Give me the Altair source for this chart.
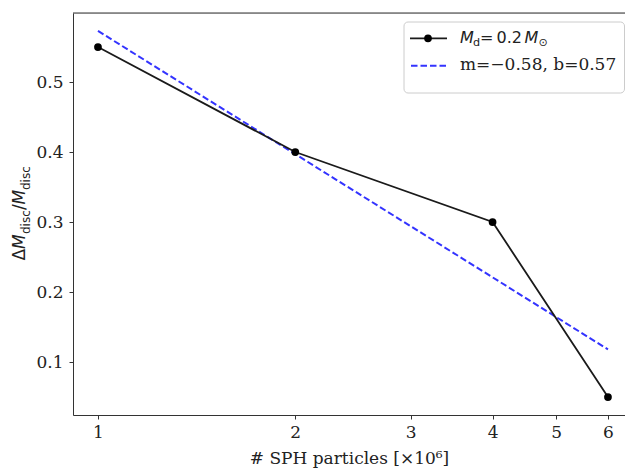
import altair as alt
import pandas as pd

# data
particles = [1, 2, 4, 6]            # x 10^6 SPH particles
dmass = [0.55, 0.40, 0.30, 0.05]    # Delta M_disc / M_disc
fit_x = [1, 6]
fit_y = [0.573, 0.118]
x_ticks = [1, 2, 3, 4, 5, 6]
y_ticks = [0.1, 0.2, 0.3, 0.4, 0.5]
fit_label = "m=\u22120.58, b=0.57"
x_title = "# SPH particles [\u00d710\u2076]"

W, H = 552, 402
XDOM = [0.916, 6.37]
YDOM = [0.0243, 0.5986]
SERIF = "DejaVu Serif"
SANS = "DejaVu Sans"
AX = "#333333"
TXT = "#222222"

df = pd.DataFrame({"x": particles, "y": dmass})
fit = pd.DataFrame({"x": fit_x, "y": fit_y})
one = pd.DataFrame({"a": [0]})

xs = alt.Scale(type="log", domain=XDOM, nice=False, zero=False)
ys = alt.Scale(domain=YDOM, nice=False, zero=False)

xax = alt.Axis(values=x_ticks, format="d", grid=False, tickSize=4, tickColor=AX,
               domainColor=AX, labelFont=SERIF, labelFontSize=17, labelColor=TXT,
               labelPadding=5, title=x_title, titleFont=SERIF, titleFontSize=17,
               titleFontWeight="normal", titleColor=TXT, titlePadding=10)
yax = alt.Axis(values=y_ticks, format=".1f", grid=False, tickSize=4, tickColor=AX,
               domainColor=AX, labelFont=SERIF, labelFontSize=17, labelColor=TXT,
               labelPadding=6)

X = alt.X("x:Q", scale=xs, axis=xax)
Y = alt.Y("y:Q", scale=ys, axis=yax, title="")

fit_line = alt.Chart(fit).mark_line(color="blue", opacity=0.8, strokeWidth=2,
                                    strokeDash=[6.5, 3]).encode(x=X, y=Y)
data_line = alt.Chart(df).mark_line(color="#1a1a1a", strokeWidth=1.8).encode(x=X, y=Y)
data_pts = alt.Chart(df).mark_circle(color="black", size=60, opacity=1).encode(x=X, y=Y)

top_spine = alt.Chart(one).mark_rule(color=AX, strokeWidth=1).encode(
    x=alt.value(0), x2=alt.value(W), y=alt.value(0))

def txt(text, x, y, size=17, font=SANS, style="normal", angle=0):
    return alt.Chart(one).mark_text(text=text, font=font, fontSize=size, fontStyle=style,
                                    align="left", baseline="alphabetic", color=TXT,
                                    angle=angle).encode(x=alt.value(x), y=alt.value(y))

# legend
leg_box = alt.Chart(one).mark_rect(fill="white", fillOpacity=0.8, stroke="#cccccc",
                                   strokeWidth=1, cornerRadius=4).encode(
    x=alt.value(331), x2=alt.value(551.5), y=alt.value(9), y2=alt.value(80))
leg_l1 = alt.Chart(one).mark_rule(color="#1a1a1a", strokeWidth=1.8).encode(
    x=alt.value(337), x2=alt.value(374), y=alt.value(25.3))
leg_p1 = alt.Chart(one).mark_circle(color="black", size=60, opacity=1).encode(
    x=alt.value(355), y=alt.value(25.3))
leg_l2 = alt.Chart(one).mark_rule(color="blue", opacity=0.8, strokeWidth=2,
                                  strokeDash=[6.5, 3]).encode(
    x=alt.value(338), x2=alt.value(373), y=alt.value(52.7))
leg_t = [
    txt("M", 387, 29.5, 16, SANS, "italic"),
    txt("d", 400, 33, 11.2, SANS),
    txt("=", 407, 29.5, 16, SANS),
    txt("0.2", 423.5, 29.5, 16, SANS),
    txt("M", 451.5, 29.5, 16, SANS, "italic"),
    txt("\u2299", 465.5, 33, 11.2, SANS),
    txt(fit_label, 387, 57, 17, SERIF),
]

# y-axis title, rotated
ytit = [
    txt("\u0394", -48, 247.5, 17, SANS, "normal", 270),
    txt("M", -48, 236, 17, SANS, "italic", 270),
    txt("disc", -43.5, 221, 12, SANS, "normal", 270),
    txt("/", -48, 197, 17, SANS, "normal", 270),
    txt("M", -48, 191.5, 17, SANS, "italic", 270),
    txt("disc", -43.5, 177, 12, SANS, "normal", 270),
]

chart = alt.layer(fit_line, data_line, data_pts, top_spine, leg_box, leg_l1, leg_p1,
                  leg_l2, *leg_t, *ytit).properties(
    width=W, height=H,
    padding={"left": 65, "top": 5, "right": 0, "bottom": 53},
    autosize=alt.AutoSizeParams(type="none"),
).configure_view(strokeWidth=0).configure(background="white")

chart.save("out.html", embed_options={"renderer": "svg", "actions": False})
